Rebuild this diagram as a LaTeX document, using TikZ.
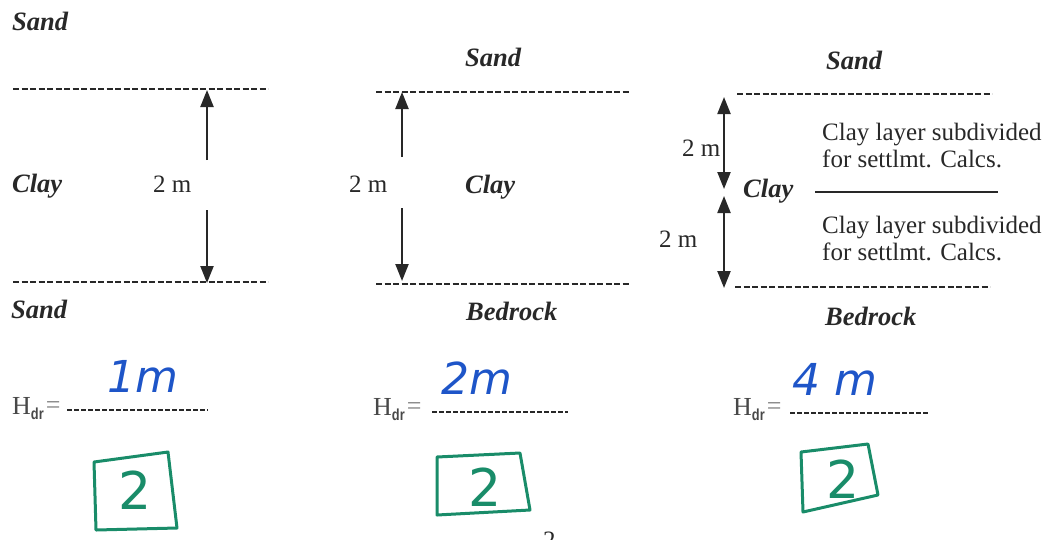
\documentclass[tikz,border=0pt]{standalone}
\usepackage{fontspec}
\setmainfont{Liberation Serif}
\newfontfamily\handfont{DejaVu Sans}
\newfontfamily\subfont{Liberation Sans}[FakeStretch=0.8]
\usetikzlibrary{arrows.meta}
\definecolor{penblue}{RGB}{30,85,200}
\definecolor{pengreen}{RGB}{25,140,105}
\definecolor{ink}{RGB}{40,40,40}
\tikzset{
  layer/.style={font=\fontsize{26.5}{30}\selectfont\bfseries\itshape, text=ink, inner sep=0pt, anchor=base west},
  lbl/.style={font=\fontsize{25}{28}\selectfont, text=ink, inner sep=0pt, anchor=base west},
  bound/.style={draw=ink, line width=1.6pt, dash pattern=on 6pt off 2.5pt},
  blank/.style={draw=ink, line width=1.7pt, dash pattern=on 5pt off 2pt},
  dimarrow/.style={draw=ink, line width=2.2pt, -{Triangle[length=17pt,width=13pt]}},
  dimboth/.style={draw=ink, line width=2.2pt, {Triangle[length=17pt,width=13pt]}-{Triangle[length=17pt,width=13pt]}},
  hdr/.style={font=\fontsize{26}{28}\selectfont, text=ink!85, inner sep=0pt, anchor=base west},
  answer/.style={font=\fontsize{44}{48}\selectfont\handfont\itshape, text=penblue, inner sep=0pt, anchor=base},
  greenmark/.style={line width=3pt, draw=pengreen, line join=round},
  markdigit/.style={font=\fontsize{52}{56}\selectfont\handfont, text=pengreen, inner sep=0pt},
}
\newcommand{\hdrtext}{H\raisebox{-5pt}{\fontsize{16}{17}\selectfont\subfont\bfseries dr}\kern2pt\raisebox{1pt}{\fontsize{26}{28}\selectfont\color{gray}=}}
\begin{document}
\begin{tikzpicture}[x=1pt,y=-1pt]
\useasboundingbox (0,0) rectangle (1054,539);
% ---------- panel 1 ----------
\node[layer] (s1t) at (12,30) {Sand};
\coordinate (l1a) at (13,89); \coordinate (l1b) at (268,89);
\draw[bound] (l1a) -- (l1b);
\node[layer] (c1) at (12,192) {Clay};
\node[lbl] (d1) at (153,192) {2 m};
\coordinate (a1t) at (207,90); \coordinate (a1u) at (207,160);
\coordinate (a1d) at (207,210); \coordinate (a1b) at (207,283);
\draw[dimarrow] (a1u) -- (a1t);
\draw[dimarrow] (a1d) -- (a1b);
\coordinate (l1c) at (13,282); \coordinate (l1d) at (268,282);
\draw[bound] (l1c) -- (l1d);
\node[layer] (s1b) at (11,318) {Sand};
\node[hdr] (h1) at (12,414) {\hdrtext};
\coordinate (h1a) at (67,410); \coordinate (h1b) at (208,410);
\draw[blank] (h1a) -- (h1b);
\node[answer] (ans1) at (143,392) {1m};
\draw[greenmark] (94,462) -- (168,452) -- (177,528) -- (96,530) -- cycle;
\node[markdigit] (m1) at (135,490) {2};
% ---------- panel 2 ----------
\node[layer] (s2t) at (465,66) {Sand};
\coordinate (l2a) at (376,92); \coordinate (l2b) at (630,92);
\draw[bound] (l2a) -- (l2b);
\node[lbl] (d2) at (349,192) {2 m};
\node[layer] (c2) at (465,193) {Clay};
\coordinate (a2t) at (402,92); \coordinate (a2u) at (402,157);
\coordinate (a2d) at (402,208); \coordinate (a2b) at (402,281);
\draw[dimarrow] (a2u) -- (a2t);
\draw[dimarrow] (a2d) -- (a2b);
\coordinate (l2c) at (376,284); \coordinate (l2d) at (630,284);
\draw[bound] (l2c) -- (l2d);
\node[layer] (b2) at (466,320) {Bedrock};
\node[hdr] (h2) at (373,415) {\hdrtext};
\coordinate (h2a) at (432,412); \coordinate (h2b) at (568,412);
\draw[blank] (h2a) -- (h2b);
\node[answer] (ans2) at (477,394) {2m};
\draw[greenmark] (437,457) -- (520,453) -- (530,510) -- (437,515) -- cycle;
\node[markdigit] (m2) at (485,487) {2};
\node[lbl] (pg) at (543,548) {2};
% ---------- panel 3 ----------
\node[layer] (s3t) at (826,69) {Sand};
\coordinate (l3a) at (737,94); \coordinate (l3b) at (992,94);
\draw[bound] (l3a) -- (l3b);
\coordinate (a3t) at (724,97); \coordinate (a3m1) at (724,189);
\coordinate (a3m2) at (724,196); \coordinate (a3b) at (724,288);
\draw[dimboth] (a3t) -- (a3m1);
\draw[dimboth] (a3m2) -- (a3b);
\node[lbl] (d3a) at (682,156) {2 m};
\node[lbl] (d3b) at (659,247) {2 m};
\node[layer] (c3) at (743,197) {Clay};
\coordinate (l3e) at (815,192); \coordinate (l3f) at (998,192);
\draw[draw=ink, line width=1.8pt] (l3e) -- (l3f);
\node[lbl] (n3a1) at (822,140) {Clay layer subdivided};
\node[lbl] (n3a2) at (822,167) {for settlmt. Calcs.};
\node[lbl] (n3b1) at (822,233) {Clay layer subdivided};
\node[lbl] (n3b2) at (822,260) {for settlmt. Calcs.};
\coordinate (l3c) at (735,287); \coordinate (l3d) at (990,287);
\draw[bound] (l3c) -- (l3d);
\node[layer] (b3) at (825,325) {Bedrock};
\node[hdr] (h3) at (733,415) {\hdrtext};
\coordinate (h3a) at (790,413); \coordinate (h3b) at (928,413);
\draw[blank] (h3a) -- (h3b);
\node[answer] (ans3) at (835,395) {4 m};
\draw[greenmark] (801,452) -- (868,444) -- (878,495) -- (803,512) -- cycle;
\node[markdigit] (m3) at (843,479) {2};
\end{tikzpicture}
\end{document}
